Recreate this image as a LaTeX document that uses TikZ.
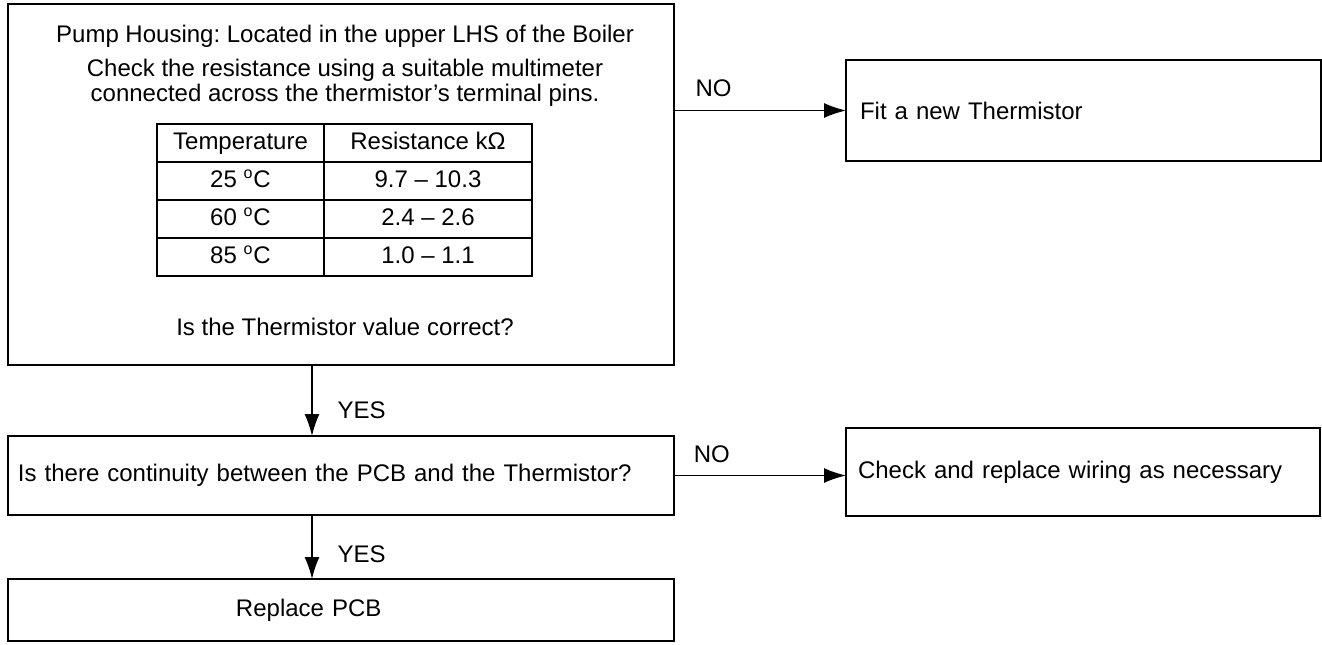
\documentclass[tikz,border=0pt]{standalone}
\usepackage{fontspec}
\setmainfont{Liberation Sans}
\usetikzlibrary{arrows.meta,positioning}
\tikzset{
  flow/.style={-{Latex[length=11pt,width=7.5pt]},line width=0.7pt,draw=black},
  box/.style={draw=black,line width=0.8pt,inner sep=0pt,outer sep=0pt},
  lbox/.style={box,align=left,inner xsep=6pt},
  cell/.style={box,minimum height=19pt,text height=8.6pt,text depth=2.6pt},
  tcell/.style={cell,minimum width=83.5pt},
  rcell/.style={cell,minimum width=104pt},
  lbl/.style={inner sep=0pt}
}

\begin{document}
\frenchspacing
\begin{tikzpicture}[x=0.5pt,y=-0.5pt,font=\fontsize{12}{12.5}\selectfont]
  \useasboundingbox (0,0) rectangle (1322,644);
  \node[box,minimum width=333pt,minimum height=180.5pt] (check) at (341,184.5) {};
  \node[lbl] (housing) at (345,36) {Pump Housing: Located in the upper LHS of the Boiler};
  \node[lbl,align=center] (measure) at (345,82.5) {Check the resistance using a suitable multimeter\\connected across the thermistor’s terminal pins.};
  \node[tcell] (thead) at (240.5,143) {Temperature};
  \node[rcell,right=0pt of thead] (rhead) {Resistance kΩ};
  \node[tcell,below=0pt of thead] (t25) {25 \textsuperscript{o}C};
  \node[rcell,right=0pt of t25] (r25) {9.7 – 10.3};
  \node[tcell,below=0pt of t25] (t60) {60 \textsuperscript{o}C};
  \node[rcell,right=0pt of t60] (r60) {2.4 – 2.6};
  \node[tcell,below=0pt of t60] (t85) {85 \textsuperscript{o}C};
  \node[rcell,right=0pt of t85] (r85) {1.0 – 1.1};
  \node[lbl] (question) at (345,327) {Is the Thermistor value correct?};
  \node[lbox,text width=223.5pt,inner xsep=7pt,minimum height=50.5pt] (fit) at (1083.5,110.5) {Fit a new Thermistor};
  \node[lbox,text width=323pt,inner xsep=5pt,minimum height=39.5pt] (cont) at (341,475.5) {Is there continuity between the PCB and the Thermistor?};
  \node[lbox,text width=225pt,minimum height=44pt] (wiring) at (1083,472) {Check and replace wiring as necessary};
  \node[lbox,text width=323pt,inner xsep=5pt,minimum height=31pt] (pcb) at (341,610) {\hspace*{109pt}Replace PCB};
  \draw[flow] (fit.west -| check.east) -- node[lbl,pos=.23,above=6.5pt] (no1) {NO} (fit.west);
  \draw[flow] (cont.east) -- node[lbl,pos=.22,above=6pt] (no2) {NO} (cont.east -| wiring.west);
  \draw[flow] ([xshift=-14.5pt]check.south) -- node[lbl,pos=.63,right=12.5pt] (yes1) {YES} ([xshift=-14.5pt]cont.north);
  \draw[flow] ([xshift=-14.5pt]cont.south) -- node[lbl,pos=.62,right=12.5pt] (yes2) {YES} ([xshift=-14.5pt]pcb.north);
\end{tikzpicture}
\end{document}
